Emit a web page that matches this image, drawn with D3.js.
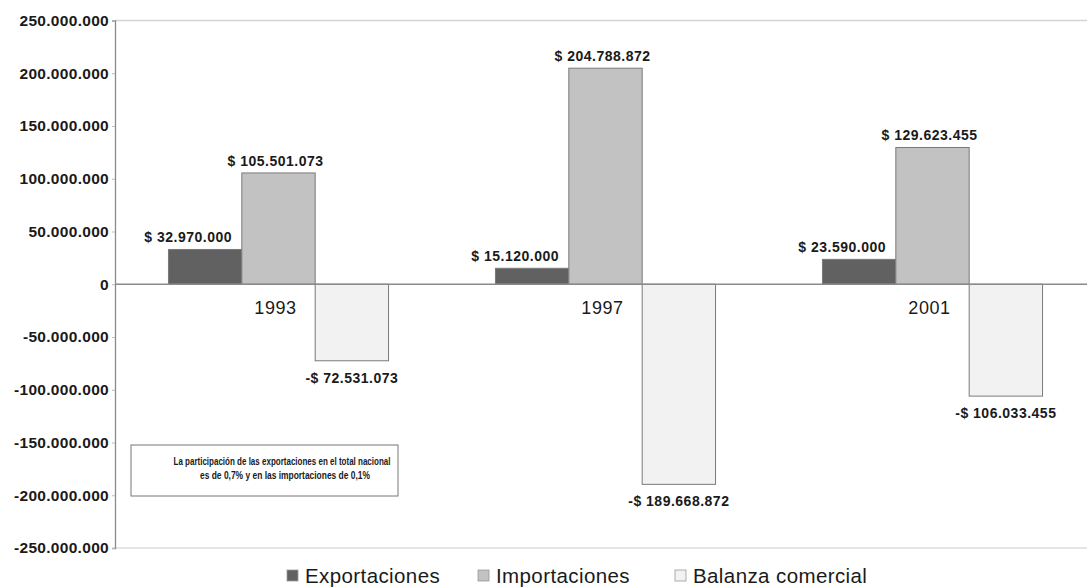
<!DOCTYPE html>
<meta charset="utf-8">
<style>
body { margin: 0; background: #fff; }
text { font-family: "Liberation Sans", Arial, sans-serif; fill: #1a1a1a; }
.tick text { font-size: 15.5px; font-weight: bold; letter-spacing: 0.3px; }
.val { font-size: 14px; font-weight: bold; letter-spacing: 0.5px; }
.cat { font-size: 18px; letter-spacing: 0.6px; }
.leg { font-size: 20.5px; letter-spacing: 0.4px; }
.note { font-size: 10.5px; font-weight: bold; }
</style>
<svg width="1087" height="588"></svg>
<script src="https://d3js.org/d3.v7.min.js"></script>
<script>

var years = ["1993", "1997", "2001"];
var series = ["Exportaciones", "Importaciones", "Balanza comercial"];
var exportaciones = [32970000, 15120000, 23590000];
var importaciones = [105501073, 204788872, 129623455];
var balanza = [-72531073, -189668872, -106033455];
var yTicks = [250000000, 200000000, 150000000, 100000000, 50000000, 0,
              -50000000, -100000000, -150000000, -200000000, -250000000];
var note = ["La participación de las exportaciones en el total nacional",
            "es de 0,7% y en las importaciones de 0,1%"];

var svg = d3.select("svg");
var fills = ["#616161", "#c2c2c2", "#f2f2f2"];
var values = [exportaciones, importaciones, balanza];

var x0 = d3.scaleBand().domain(years).range([115, 1096]).paddingInner(0.327).paddingOuter(0.1635);
var x1 = d3.scaleBand().domain(series).range([0, x0.bandwidth()]);
var y = d3.scaleLinear().domain([-250000000, 250000000]).range([548, 20.5]);

var fmt = function(v) {
  var s = d3.format(",")(Math.abs(v)).replace(/,/g, ".");
  return (v < 0 ? "-$ " : "$ ") + s;
};

// frame lines
svg.append("line").attr("x1", 115).attr("x2", 1087).attr("y1", y(250000000)).attr("y2", y(250000000))
  .attr("stroke", "#d4d4d4").attr("stroke-width", 1.5);
svg.append("line").attr("x1", 115).attr("x2", 1087).attr("y1", y(-250000000)).attr("y2", y(-250000000))
  .attr("stroke", "#dcdcdc").attr("stroke-width", 1.5);

// y axis
var yAxis = svg.append("g").attr("transform", "translate(115,0)")
  .call(d3.axisLeft(y).tickValues(yTicks).tickSize(3).tickPadding(3)
    .tickFormat(function(d) { return d3.format(",")(d).replace(/,/g, ".").replace("−", "-"); }));
yAxis.select(".domain").attr("stroke", "#8a8a8a").attr("stroke-width", 1.3);
yAxis.selectAll(".tick line").attr("stroke", "#bbb");
yAxis.selectAll(".tick text").attr("fill", "#1a1a1a");

// bars
var rows = [];
years.forEach(function(yr, i) {
  series.forEach(function(s, j) {
    rows.push({year: yr, series: s, idx: j, value: values[j][i]});
  });
});

svg.append("g").selectAll("rect").data(rows).enter().append("rect")
  .attr("x", function(d) { return x0(d.year) + x1(d.series); })
  .attr("width", x1.bandwidth())
  .attr("y", function(d) { return y(Math.max(0, d.value)); })
  .attr("height", function(d) { return Math.abs(y(d.value) - y(0)); })
  .attr("fill", function(d) { return fills[d.idx]; })
  .attr("stroke", "#7a7a7a").attr("stroke-width", 1);

// zero line
svg.append("line").attr("x1", 115).attr("x2", 1087).attr("y1", y(0)).attr("y2", y(0))
  .attr("stroke", "#8a8a8a").attr("stroke-width", 1.3);

// value labels
var labOffsetX = [-17, -3, 0];
svg.append("g").selectAll("text").data(rows).enter().append("text")
  .attr("class", "val")
  .attr("text-anchor", "middle")
  .attr("x", function(d) { return x0(d.year) + x1(d.series) + x1.bandwidth() / 2 + labOffsetX[d.idx]; })
  .attr("y", function(d) { return d.value >= 0 ? y(d.value) - 7 : y(d.value) + 22; })
  .text(function(d) { return fmt(d.value); });

// category labels
svg.append("g").selectAll("text").data(years).enter().append("text")
  .attr("class", "cat")
  .attr("text-anchor", "middle")
  .attr("x", function(d) { return x0(d) + x0.bandwidth() / 2 - 3; })
  .attr("y", y(0) + 30)
  .text(function(d) { return d; });

// note box
svg.append("rect").attr("x", 131).attr("y", 445).attr("width", 267).attr("height", 51)
  .attr("fill", "#fff").attr("stroke", "#777").attr("stroke-width", 1);
svg.append("text").attr("class", "note").attr("text-anchor", "middle")
  .attr("x", 282).attr("y", 465).attr("textLength", 217).attr("lengthAdjust", "spacingAndGlyphs").text(note[0]);
svg.append("text").attr("class", "note").attr("text-anchor", "middle")
  .attr("x", 285).attr("y", 479).attr("textLength", 170).attr("lengthAdjust", "spacingAndGlyphs").text(note[1]);

// legend
var legX = [287, 478, 675];
var leg = svg.append("g").selectAll("g").data(series).enter().append("g")
  .attr("transform", function(d, i) { return "translate(" + legX[i] + ",570)"; });
leg.append("rect").attr("width", 11).attr("height", 11)
  .attr("fill", function(d, i) { return fills[i]; })
  .attr("stroke", "#999").attr("stroke-width", 0.8);
leg.append("text").attr("class", "leg").attr("x", 18).attr("y", 12.5)
  .text(function(d) { return d; });

</script>
